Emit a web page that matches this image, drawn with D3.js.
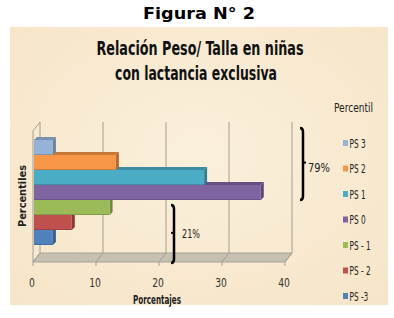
<!DOCTYPE html>
<html>
<head>
<meta charset="utf-8">
<script src="https://cdn.jsdelivr.net/npm/d3@7"></script>
<style>
	body { margin: 0; background: #fff; }
	#chart { width: 394px; height: 318px; }
</style>
</head>
<body>
<div id="chart"></div>
<script>
// Chart data
const categories = ["PS 3", "PS 2", "PS 1", "PS 0", "PS - 1", "PS - 2", "PS -3"]
const values = [3, 13, 27, 36, 12, 6, 3]
const colors = ["#95B3D7", "#F79646", "#4BACC6", "#8064A2", "#9BBB59", "#C0504D", "#4F81BD"]
const xTicks = [0, 10, 20, 30, 40]
const brackets = [
	{ label: "79%", from: "PS 3", to: "PS 0" },
	{ label: "21%", from: "PS - 1", to: "PS -3" },
]

const narrow = "'Liberation Sans Narrow', 'DejaVu Sans Condensed', sans-serif"

// squeeze text horizontally (no narrow Calibri-like font available)
function squeeze(sel, factor) {
	sel.each(function () {
		const w = this.getComputedTextLength()
		d3.select(this)
			.attr("textLength", w * factor)
			.attr("lengthAdjust", "spacingAndGlyphs")
	})
	return sel
}

function renderChart() {
	const svg = d3
		.select("#chart")
		.append("svg")
		.attr("width", 394)
		.attr("height", 318)

	// Background panel
	const defs = svg.append("defs")
	const grad = defs
		.append("radialGradient")
		.attr("id", "bg")
		.attr("cx", "50%")
		.attr("cy", "45%")
		.attr("r", "70%")
	grad.append("stop").attr("offset", "0%").attr("stop-color", "#FBF0DC")
	grad.append("stop").attr("offset", "100%").attr("stop-color", "#F6E5C8")

	svg.append("rect")
		.attr("x", 10)
		.attr("y", 27)
		.attr("width", 378)
		.attr("height", 278)
		.attr("fill", "url(#bg)")

	// Heading
	svg.append("text")
		.attr("x", 199)
		.attr("y", 19)
		.attr("text-anchor", "middle")
		.style("font-family", "'DejaVu Sans', sans-serif")
		.style("font-weight", "bold")
		.style("font-size", "16px")
		.attr("textLength", 112)
		.attr("lengthAdjust", "spacingAndGlyphs")
		.text("Figura N° 2")

	// Chart title
	const titleLines = ["Relación Peso/ Talla en niñas", "con lactancia exclusiva"]
	const titleWidths = [207, 162]
	titleLines.forEach((t, i) => {
		svg.append("text")
			.attr("x", i === 0 ? 200 : 196)
			.attr("y", 55 + i * 25)
			.attr("text-anchor", "middle")
			.style("font-family", narrow)
			.style("font-weight", "bold")
			.style("font-size", "19px")
			.style("fill", "#111")
			.attr("textLength", titleWidths[i])
			.attr("lengthAdjust", "spacingAndGlyphs")
			.text(t)
	})

	// Scales
	const x = d3.scaleLinear().domain([0, 40]).range([33, 285])
	const y = d3.scaleBand().domain(categories).range([140, 245]).padding(0)
	const depth = { dx: 7, dy: -9 }
	const floorY = 262
	const wallTop = 122

	const grid = svg.append("g").attr("class", "grid")

	// Floor
	grid.append("path")
		.attr("d", `M${x(0)},${floorY} L${x(40)},${floorY} L${x(40) + depth.dx},${floorY + depth.dy} L${x(0) + depth.dx},${floorY + depth.dy} Z`)
		.attr("fill", "#C6C0B2")
		.attr("stroke", "#A8A294")
		.attr("stroke-width", 1)

	// Back wall gridlines + floor diagonals
	xTicks.forEach((v) => {
		grid.append("line")
			.attr("x1", x(v) + depth.dx)
			.attr("x2", x(v) + depth.dx)
			.attr("y1", wallTop)
			.attr("y2", floorY + depth.dy)
			.attr("stroke", "#A49E94")
			.attr("stroke-width", 1)
		grid.append("line")
			.attr("x1", x(v))
			.attr("x2", x(v) + depth.dx)
			.attr("y1", floorY)
			.attr("y2", floorY + depth.dy)
			.attr("stroke", "#A49E94")
			.attr("stroke-width", 1)
		grid.append("line")
			.attr("x1", x(v))
			.attr("x2", x(v))
			.attr("y1", floorY)
			.attr("y2", floorY + 4)
			.attr("stroke", "#A49E94")
			.attr("stroke-width", 1)
	})

	// Left side wall
	grid.append("path")
		.attr("d", `M${x(0)},${floorY} L${x(0)},${wallTop - depth.dy} L${x(0) + depth.dx},${wallTop}`)
		.attr("fill", "none")
		.attr("stroke", "#A49E94")
		.attr("stroke-width", 1)

	// Bars (bottom first so upper bars cover top faces)
	const d = 3
	const data = categories.map((c, i) => ({ cat: c, value: values[i], color: colors[i] }))
	const bars = svg
		.append("g")
		.selectAll("g")
		.data(data.slice().reverse())
		.join("g")

	bars.each(function (b) {
		const g = d3.select(this)
		const x0 = x(0) + 1
		const x1 = x(b.value) + 1
		const y0 = y(b.cat)
		const y1 = y0 + y.bandwidth()
		const c = d3.color(b.color)
		// top face
		g.append("path")
			.attr("d", `M${x0},${y0} L${x1},${y0} L${x1 + d},${y0 - d} L${x0 + d},${y0 - d} Z`)
			.attr("fill", c.darker(0.6))
		// side face
		g.append("path")
			.attr("d", `M${x1},${y0} L${x1 + d},${y0 - d} L${x1 + d},${y1 - d} L${x1},${y1} Z`)
			.attr("fill", c.darker(0.9))
		// front face
		g.append("rect")
			.attr("x", x0)
			.attr("y", y0)
			.attr("width", x1 - x0)
			.attr("height", y.bandwidth())
			.attr("fill", b.color)
		g.append("line")
			.attr("x1", x0)
			.attr("x2", x1)
			.attr("y1", y1 - 0.5)
			.attr("y2", y1 - 0.5)
			.attr("stroke", c.darker(0.5))
			.attr("stroke-width", 1)
	})

	// X tick labels
	svg.append("g")
		.selectAll("text")
		.data(xTicks)
		.join("text")
		.attr("x", (v) => x(v) - 1)
		.attr("y", 287)
		.attr("text-anchor", "middle")
		.style("font-family", narrow)
		.style("font-size", "12px")
		.style("fill", "#333")
		.text((v) => v)
		.call(squeeze, 0.85)

	// Axis titles
	svg.append("text")
		.attr("x", 157)
		.attr("y", 304)
		.attr("text-anchor", "middle")
		.style("font-family", narrow)
		.style("font-weight", "bold")
		.style("font-size", "12.5px")
		.style("fill", "#222")
		.attr("textLength", 48)
		.attr("lengthAdjust", "spacingAndGlyphs")
		.text("Porcentajes")

	svg.append("text")
		.attr("transform", "translate(26,196) rotate(-90)")
		.attr("text-anchor", "middle")
		.style("font-family", "'DejaVu Sans', sans-serif")
		.style("font-weight", "bold")
		.style("font-size", "11px")
		.attr("textLength", 62)
		.attr("lengthAdjust", "spacingAndGlyphs")
		.style("fill", "#222")
		.text("Percentiles")

	// Brackets
	const bracketPos = [
		{ x: 303, y0: 128, y1: 200, nub: 1, tx: 308, ty: 172, w: 22 },
		{ x: 174, y0: 205, y1: 263, nub: -1, tx: 182, ty: 238, w: 18 },
	]
	brackets.forEach((br, i) => {
		const p = bracketPos[i]
		const mid = p.y0 + (p.y1 - p.y0) * 0.48
		svg.append("path")
			.attr("d", `M${p.x - 3},${p.y0} Q${p.x},${p.y0} ${p.x},${p.y0 + 4} L${p.x},${p.y1 - 4} Q${p.x},${p.y1} ${p.x - 3},${p.y1}`)
			.attr("fill", "none")
			.attr("stroke", "#000")
			.attr("stroke-width", 2.5)
		svg.append("line")
			.attr("x1", p.x)
			.attr("x2", p.x + p.nub * 3)
			.attr("y1", mid)
			.attr("y2", mid)
			.attr("stroke", "#000")
			.attr("stroke-width", 2)
		svg.append("text")
			.attr("x", p.tx)
			.attr("y", p.ty)
			.style("font-family", narrow)
			.style("font-size", "12.5px")
			.style("fill", "#222")
			.attr("textLength", p.w)
			.attr("lengthAdjust", "spacingAndGlyphs")
			.text(br.label)
	})

	// Legend
	svg.append("text")
		.attr("x", 334)
		.attr("y", 112)
		.style("font-family", narrow)
		.style("font-size", "13px")
		.style("fill", "#222")
		.attr("textLength", 39)
		.attr("lengthAdjust", "spacingAndGlyphs")
		.text("Percentil")

	const legend = svg
		.append("g")
		.selectAll("g")
		.data(data)
		.join("g")
		.attr("transform", (b, i) => `translate(343, ${143 + i * 25.5})`)

	legend.append("rect")
		.attr("x", 0)
		.attr("y", -3)
		.attr("width", 5)
		.attr("height", 6)
		.attr("fill", (b) => b.color)

	legend.append("text")
		.attr("x", 6.5)
		.attr("y", 4.5)
		.style("font-family", narrow)
		.style("font-size", "12px")
		.style("fill", "#222")
		.text((b) => b.cat)
		.call(squeeze, 0.68)
}

renderChart()
</script>
</body>
</html>
